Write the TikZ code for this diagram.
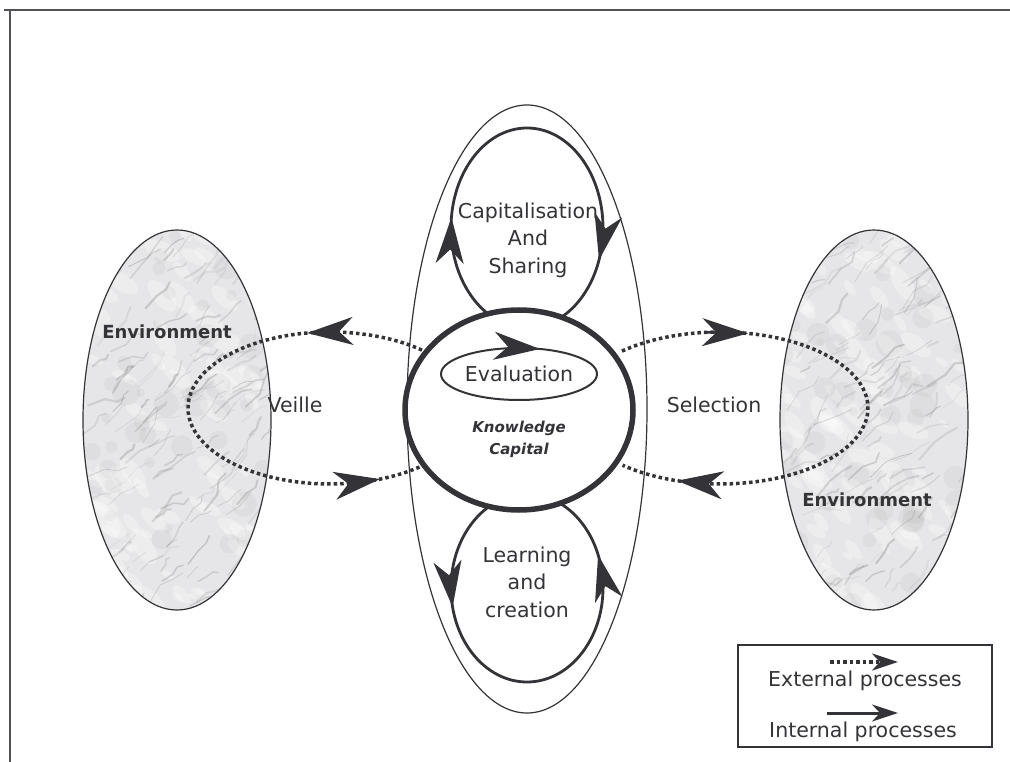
\documentclass[tikz,border=0pt]{standalone}
\usepackage{fontspec}
\setmainfont{DejaVu Sans}
\usetikzlibrary{shapes.geometric,arrows.meta}
\definecolor{ink}{RGB}{52,52,56}
\definecolor{marblebase}{RGB}{230,230,232}
\newcommand\marblefill[4]{%
  \begin{scope}
    \clip (#1,#2) ellipse [x radius=#3pt, y radius=#4pt];
    \fill[marblebase] (#1-#3,#2-#4) rectangle (#1+#3,#2+#4);
    \foreach \i in {1,...,90}{%
      \pgfmathsetmacro\xa{#1-#3+rnd*2*#3}%
      \pgfmathsetmacro\ya{#2-#4+rnd*2*#4}%
      \pgfmathsetmacro\ra{5+rnd*16}%
      \pgfmathsetmacro\rt{-20-rnd*40}%
      \fill[white, opacity=0.3, rotate around={\rt:(\xa,\ya)}] (\xa,\ya) ellipse [x radius=\ra pt, y radius=0.45*\ra pt];
    }
    \foreach \i in {1,...,50}{%
      \pgfmathsetmacro\xa{#1-#3+rnd*2*#3}%
      \pgfmathsetmacro\ya{#2-#4+rnd*2*#4}%
      \pgfmathsetmacro\ra{4+rnd*10}%
      \fill[black, opacity=0.03] (\xa,\ya) circle [radius=\ra pt];
    }
    \foreach \i in {1,...,140}{%
      \pgfmathsetmacro\xa{#1-#3+rnd*2*#3}%
      \pgfmathsetmacro\ya{#2-#4+rnd*2*#4}%
      \pgfmathsetmacro\la{5+rnd*18}%
      \pgfmathsetmacro\aa{-20-rnd*40}%
      \pgfmathsetmacro\lw{0.5+rnd*1.8}%
      \pgfmathsetmacro\op{0.08+rnd*0.22}%
      \draw[black!55, line width=\lw pt, opacity=\op, line cap=round, line join=round]
        (\xa,\ya) -- ++(\aa:\la) -- ++(\aa+70*rnd-35:0.7*\la) -- ++(\aa+70*rnd-35:0.5*\la);
    }
  \end{scope}}
\begin{document}
\begin{tikzpicture}[x=1pt,y=-1pt,
  every node/.style={inner sep=0pt, outer sep=0pt},
  envnode/.style={ellipse, draw=ink, line width=1.2pt, minimum width=188pt, minimum height=380pt},
  loopline/.style={draw=ink, line width=2.8pt},
  dotline/.style={draw=ink, line width=3.5pt, dash pattern=on 3.5pt off 3pt},
  bigtip/.style={draw=ink, fill=ink, line width=2.5pt, -{Stealth[length=46pt,width=28pt,inset=14pt]}},
  smalltip/.style={-{Stealth[length=26pt,width=17pt,inset=8pt]}},
  lbl/.style={text=ink, font=\fontsize{20.5}{27.5}\selectfont, align=center},
  envlbl/.style={text=ink, font=\fontsize{18}{22}\selectfont\bfseries},
  kclbl/.style={text=ink, font=\fontsize{15}{22}\selectfont\bfseries\itshape, align=center}]
\useasboundingbox (0,0) rectangle (1010,762);
\pgfmathsetseed{7}
% frame
\coordinate (fTL) at (10,10);
\coordinate (fTR) at (1010,10);
\coordinate (fBL) at (10,762);
\draw[ink!85, line width=2.5pt] (4,10) -- (fTR);
\draw[ink!85, line width=2.5pt] (fTL) -- (fBL);
% environments
\marblefill{177}{420}{94}{190}
\marblefill{874}{420}{94}{190}
\node[envnode] (envL) at (177,420) {};
\node[envnode] (envR) at (874,420) {};
% outer thin ellipse
\node[ellipse, draw=ink, line width=1.2pt, minimum width=240pt, minimum height=608pt] (outer) at (527,409) {};
% loops
\draw[loopline] (527,228) ellipse [x radius=76pt, y radius=100pt];
\draw[loopline] (527,588) ellipse [x radius=76pt, y radius=94pt];
% dotted processes
\draw[dotline] plot[domain=0:1, samples=120, variable=\t]
  ({330+142*cos(-49.6-260.8*\t)}, {408+76*sin(-49.6-260.8*\t)});
\draw[dotline] plot[domain=0:1, samples=120, variable=\t]
  ({720+148*cos(-131.5+263*\t)}, {408+76*sin(-131.5+263*\t)});
% knowledge capital
\node[ellipse, draw=ink, fill=white, line width=5.5pt, minimum width=228pt, minimum height=200pt] (kc) at (519,410) {};
\node[ellipse, draw=ink, line width=2pt, minimum width=156pt, minimum height=52pt, lbl] (eval) at (519,374) {Evaluation};
\node[kclbl] (kcl) at (519,439) {Knowledge\\Capital};
% arrow heads on loops
\draw[bigtip] (451,228) -- (451.4,217.5);
\draw[bigtip] (601.3,248.8) -- (599,260);
\draw[bigtip] (451.2,594.6) -- (452.6,607);
\draw[bigtip] (601.3,568.5) -- (598.1,555);
\draw[bigtip] (527.2,348.1) -- (539.9,349);
% arrow heads on dotted processes
\draw[bigtip] (330,332) -- (307.1,333);
\draw[bigtip] (354.7,482.8) -- (380,479.1);
\draw[bigtip] (707.1,332.3) -- (748.2,333.4);
\draw[bigtip] (707.1,483.7) -- (677,480.7);
% labels
\node[lbl] (cap) at (528,240) {Capitalisation\\And\\Sharing};
\node[lbl] (learn) at (527,582) {Learning\\and\\creation};
\node[lbl] (veille) at (295,405) {Veille};
\node[lbl] (sel) at (714,405) {Selection};
\node[envlbl] (envLl) at (167,332) {Environment};
\node[envlbl] (envRl) at (867,500) {Environment};
% legend
\node[draw=ink, line width=1.5pt, minimum width=254pt, minimum height=102pt] (legend) at (865,696) {};
\coordinate (le1) at (830,662);
\coordinate (le2) at (898,662);
\coordinate (li1) at (827,713);
\coordinate (li2) at (898,713);
\draw[dotline, smalltip] (le1) -- (le2);
\draw[ink, line width=3pt, smalltip] (li1) -- (li2);
\node[lbl] (ext) at (865,681) {External processes};
\node[lbl] (int) at (863,732) {Internal processes};
\end{tikzpicture}
\end{document}
